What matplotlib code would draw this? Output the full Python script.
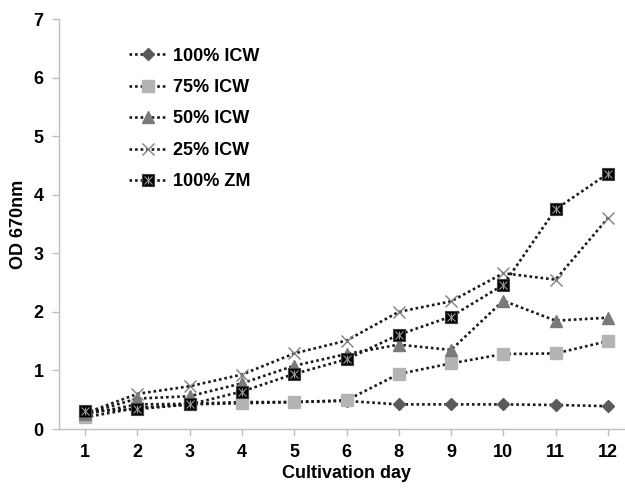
import matplotlib
matplotlib.use("Agg")
import matplotlib.pyplot as plt
from matplotlib.legend_handler import HandlerTuple

days = ["1", "2", "3", "4", "5", "6", "8", "9", "10", "11", "12"]
icw100 = [0.25, 0.42, 0.43, 0.46, 0.46, 0.48, 0.42, 0.42, 0.42, 0.41, 0.39]
icw75 = [0.20, 0.36, 0.42, 0.44, 0.46, 0.49, 0.94, 1.12, 1.28, 1.29, 1.50]
icw50 = [0.26, 0.52, 0.56, 0.78, 1.08, 1.28, 1.44, 1.35, 2.19, 1.85, 1.90]
icw25 = [0.27, 0.60, 0.73, 0.93, 1.29, 1.51, 2.00, 2.18, 2.66, 2.55, 3.60]
zm100 = [0.30, 0.34, 0.42, 0.64, 0.94, 1.19, 1.61, 1.92, 2.46, 3.75, 4.36]

plt.rcParams['font.family'] = ['Liberation Sans', 'DejaVu Sans']
plt.rcParams['font.weight'] = 'bold'

fig = plt.figure(figsize=(6.25, 4.9), dpi=100)
ax = fig.add_axes([59/625, (490-429)/490, (634-59)/625, (429-19)/490])

x = list(range(len(days)))
ls = (0, (1, 1.1))
lw = 1.9
lc = '#1a1a1a'

h1, = ax.plot(x, icw100, linestyle=ls, color=lc, lw=lw, marker='D', ms=6.5,
              mfc='#5a5a5a', mec='#5a5a5a', label='100% ICW')
h2, = ax.plot(x, icw75, linestyle=ls, color=lc, lw=lw, marker='s', ms=8,
              mfc='#b4b4b4', mec='#b4b4b4', label='75% ICW')
h3, = ax.plot(x, icw50, linestyle=ls, color=lc, lw=lw, marker='^', ms=8,
              mfc='#7a7a7a', mec='#7a7a7a', label='50% ICW')
h4, = ax.plot(x, icw25, linestyle=ls, color=lc, lw=lw, marker='x', ms=9,
              mew=1.0, mfc='#808080', mec='#808080', label='25% ICW')
h5, = ax.plot(x, zm100, linestyle=ls, color=lc, lw=lw, marker='s', ms=9,
              mfc='#000000', mec='#444444', mew=0.8, label='100% ZM')
h5b, = ax.plot(x, zm100, linestyle='none', marker='x', ms=6, mew=0.8,
               mec='#9a9a9a')
h5c, = ax.plot(x, zm100, linestyle='none', marker='|', ms=6, mew=0.8,
               mec='#9a9a9a')

ax.set_ylim(0, 7)
ax.set_xlim(-0.5, 10.5)
ax.set_xticks(x)
ax.set_xticklabels(days)
ax.set_yticks(range(0, 8))

for s in ['top', 'right']:
    ax.spines[s].set_visible(False)
for s in ['left', 'bottom']:
    ax.spines[s].set_color('#bfbfbf')
    ax.spines[s].set_linewidth(1.0)
ax.tick_params(axis='both', colors='#bfbfbf', labelcolor='#000000',
               labelsize=13, length=5, width=1.0)
ax.tick_params(axis='x', pad=6)
ax.tick_params(axis='y', pad=6)

ax.set_xlabel('Cultivation day', fontsize=13, fontweight='bold', labelpad=3)
ax.set_ylabel('OD 670nm', fontsize=13, fontweight='bold')
ax.yaxis.set_label_coords(-0.056, 0.5)

leg = ax.legend([h1, h2, h3, h4, (h5, h5b, h5c)],
                ['100% ICW', '75% ICW', '50% ICW', '25% ICW', '100% ZM'],
                handler_map={tuple: HandlerTuple(ndivide=1)},
                loc='upper left', bbox_to_anchor=(0.093, 0.97), frameon=False,
                fontsize=13, handlelength=2.1, labelspacing=0.8,
                handletextpad=0.35)

fig.savefig('out.png', dpi=100)
